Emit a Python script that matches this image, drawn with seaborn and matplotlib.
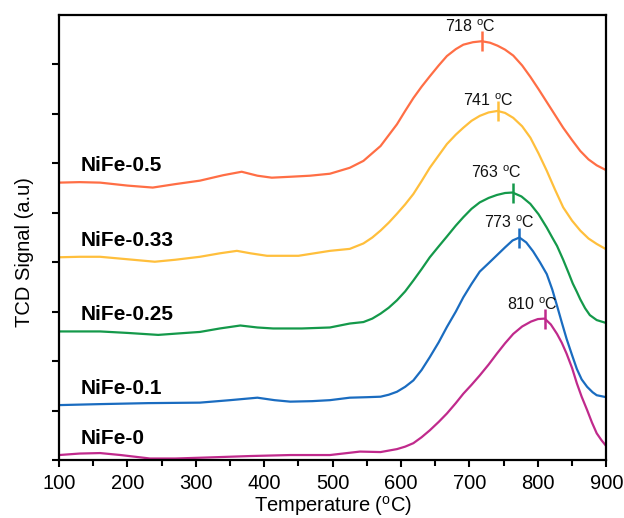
import matplotlib
matplotlib.use("Agg")
import matplotlib.pyplot as plt
import numpy as np
import pandas as pd
import seaborn as sns

# --------------------------- data ----------------- #

samples = ['NiFe-0.5', 'NiFe-0.33', 'NiFe-0.25', 'NiFe-0.1', 'NiFe-0']

t_05 = [100, 130, 160, 200, 237, 270, 306, 340, 367, 390, 411, 440, 467, 496, 525, 545, 570, 594, 606, 618, 630,
        642, 655, 667, 680, 691, 705, 718, 730, 741, 752, 764, 777, 789, 801, 813, 825, 837, 850, 862, 874, 886, 900]
s_05 = [5.61, 5.62, 5.61, 5.55, 5.51, 5.58, 5.65, 5.76, 5.83, 5.75, 5.71, 5.73, 5.75, 5.79, 5.91, 6.05, 6.35, 6.79, 7.06, 7.32, 7.55,
        7.76, 7.98, 8.17, 8.31, 8.40, 8.45, 8.47, 8.44, 8.38, 8.30, 8.18, 7.98, 7.75, 7.50, 7.24, 6.98, 6.72, 6.47, 6.25, 6.08, 5.96, 5.86]

t_033 = [100, 130, 160, 200, 240, 270, 306, 335, 360, 380, 404, 450, 496, 525, 545, 558, 570, 582, 594, 606, 618, 630,
         642, 655, 667, 680, 691, 703, 715, 728, 741, 752, 764, 777, 789, 801, 813, 825, 837, 850, 862, 874, 886, 900]
s_033 = [4.10, 4.11, 4.11, 4.06, 4.01, 4.05, 4.11, 4.18, 4.23, 4.18, 4.13, 4.13, 4.23, 4.27, 4.38, 4.50, 4.64, 4.80, 4.98, 5.17, 5.38, 5.64,
         5.91, 6.16, 6.39, 6.58, 6.72, 6.86, 6.96, 7.03, 7.06, 7.02, 6.92, 6.75, 6.52, 6.20, 5.85, 5.47, 5.11, 4.84, 4.64, 4.48, 4.37, 4.26]

t_025 = [100, 130, 160, 200, 245, 275, 306, 335, 365, 390, 413, 455, 496, 525, 545, 558, 570, 582, 594, 606, 618, 630,
         642, 655, 667, 680, 691, 703, 715, 728, 740, 752, 763, 776, 789, 801, 813, 821, 828, 837, 845, 851, 857, 862,
         869, 876, 886, 900]
s_025 = [2.60, 2.60, 2.60, 2.57, 2.53, 2.56, 2.59, 2.66, 2.72, 2.68, 2.66, 2.66, 2.68, 2.76, 2.79, 2.86, 2.96, 3.08, 3.23, 3.41, 3.63, 3.86,
         4.10, 4.32, 4.52, 4.74, 4.91, 5.08, 5.21, 5.30, 5.36, 5.40, 5.41, 5.33, 5.18, 4.97, 4.70, 4.50, 4.33, 4.05, 3.78, 3.57, 3.40, 3.25,
         3.07, 2.93, 2.83, 2.77]

t_01 = [100, 160, 230, 306, 350, 390, 415, 438, 470, 496, 525, 550, 570, 582, 594, 606, 618, 630, 642, 655, 667, 680,
        691, 703, 715, 728, 740, 752, 763, 773, 783, 793, 803, 813, 821, 828, 835, 842, 850, 857, 864, 872, 880, 886, 900]
s_01 = [1.11, 1.13, 1.15, 1.16, 1.21, 1.26, 1.21, 1.18, 1.19, 1.21, 1.26, 1.27, 1.28, 1.32, 1.38, 1.48, 1.61, 1.82, 2.08, 2.38, 2.69, 3.00,
        3.29, 3.56, 3.81, 3.98, 4.14, 4.30, 4.44, 4.50, 4.40, 4.22, 4.00, 3.76, 3.45, 3.12, 2.78, 2.45, 2.12, 1.84, 1.63, 1.48, 1.37, 1.31, 1.27]

t_0 = [100, 130, 160, 190, 233, 270, 316, 380, 438, 496, 540, 570, 594, 606, 618, 630, 642, 655, 667, 680, 691, 703,
       715, 728, 740, 752, 764, 777, 790, 800, 810, 819, 828, 835, 842, 850, 857, 864, 872, 879, 886, 893, 900]
s_0 = [0.10, 0.13, 0.14, 0.10, 0.03, 0.03, 0.05, 0.08, 0.10, 0.10, 0.17, 0.16, 0.22, 0.27, 0.34, 0.46, 0.60, 0.77, 0.94, 1.15, 1.34, 1.52,
       1.71, 1.93, 2.15, 2.36, 2.55, 2.70, 2.80, 2.85, 2.86, 2.74, 2.55, 2.37, 2.15, 1.86, 1.55, 1.28, 1.01, 0.76, 0.54, 0.40, 0.28]

peak_temps = [718, 741, 763, 773, 810]
peak_vals = [8.47, 7.06, 5.41, 4.50, 2.86]
peak_labels = ['718', '741', '763', '773', '810']

colors = ['#FF6E45', '#FFBF3C', '#14994A', '#1A6CC0', '#C02A8C']

# ----------------------- build a long table ------------------- #

frames = []
for name, t, s in zip(samples, [t_05, t_033, t_025, t_01, t_0], [s_05, s_033, s_025, s_01, s_0]):
    frames.append(pd.DataFrame({'T': t, 'signal': s, 'sample': name}))
df = pd.concat(frames, ignore_index=True)

sns.set_theme(style='ticks')
plt.rcParams['font.family'] = ['Liberation Sans', 'DejaVu Sans']
plt.rcParams['mathtext.fontset'] = 'custom'
plt.rcParams['mathtext.rm'] = 'Liberation Sans'
plt.rcParams['text.color'] = 'black'
plt.rcParams['axes.labelcolor'] = 'black'
plt.rcParams['xtick.color'] = 'black'
plt.rcParams['ytick.color'] = 'black'

fig = plt.figure(figsize=(6.24, 5.18), dpi=100)
ax = fig.add_axes([0.0946, 0.112, 0.877, 0.859])

sns.lineplot(data=df, x='T', y='signal', hue='sample', hue_order=samples,
             palette=colors, estimator=None, sort=True, lw=1.6, legend=False, ax=ax)

# peak markers + labels (offsets in points, text centre relative to the peak)
label_offsets = [(-8, 10.5), (-6.5, 7.5), (-11.5, 14.5), (-7, 10.5), (-9, 10)]
for t, v, lab, c, off in zip(peak_temps, peak_vals, peak_labels, colors, label_offsets):
    ax.plot([t], [v], marker='|', ms=15, mew=1.8, color=c)
    ax.annotate(lab + r' $^{\mathrm{o}}$C', (t, v), xytext=off, textcoords='offset points',
                ha='center', va='center', fontsize=11.5, color='#111111')

# sample names over the baselines
for name, s in zip(samples, [s_05, s_033, s_025, s_01, s_0]):
    ax.text(131, s[0] + 0.34, name, fontsize=15, fontweight='bold', va='center', ha='left', color='black')

ax.set_xlim(100, 900)
ax.set_ylim(0, 9)
ax.set_xticks(np.arange(100, 901, 100))
ax.set_xticks(np.arange(150, 900, 100), minor=True)
ax.set_yticks(np.arange(0, 9, 1))
ax.set_yticklabels([])
ax.tick_params(axis='x', which='major', length=5, width=1.5, labelsize=14.5, pad=5, direction='out')
ax.tick_params(axis='x', which='minor', length=4, width=1.5, direction='out')
ax.tick_params(axis='y', length=5, width=1.5, direction='out')
for sp in ax.spines.values():
    sp.set_linewidth(1.6)
    sp.set_color('black')

ax.set_xlabel(r'Temperature ($^{\mathrm{o}}$C)', fontsize=14.5, labelpad=0.5)
ax.set_ylabel('TCD Signal (a.u)', fontsize=14.5)
ax.yaxis.set_label_coords(-0.045, 0.467)

fig.savefig('out.png', dpi=100)
